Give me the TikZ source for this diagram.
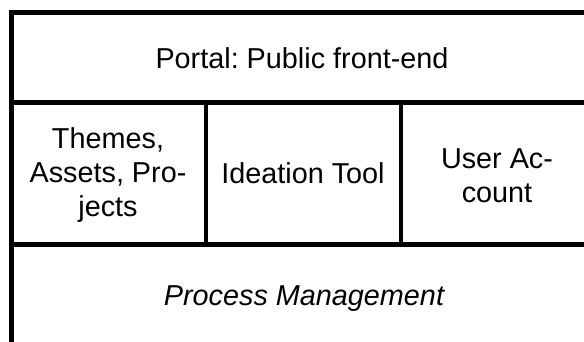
\documentclass[tikz,border=0pt]{standalone}
\usepackage{fontspec}
\setmainfont{Liberation Sans}
\frenchspacing

\begin{document}
\begin{tikzpicture}[x=0.5pt, y=-0.5pt,
    layer/.style={font=\fontsize{14.4}{16.8}\selectfont, align=center, inner sep=0pt},
    rule/.style={line width=2.5pt},
    sep/.style={line width=2pt}]
  \useasboundingbox (0,0) rectangle (584,342);
  \clip (0,0) rectangle (584,342);

  % Define corners and splits of the stack
  \coordinate (TL) at (11.5,12.5);
  \coordinate (TR) at (600,12.5);
  \coordinate (BL) at (11.5,360);
  \coordinate (AL) at (11.5,102.5);
  \coordinate (AR) at (600,102.5);
  \coordinate (CL) at (11.5,244);
  \coordinate (CR) at (600,244);
  \coordinate (S1t) at (206,102.5);
  \coordinate (S1b) at (206,244);
  \coordinate (S2t) at (400.5,102.5);
  \coordinate (S2b) at (400.5,244);

  % Define layers
  \node[layer] (portal) at (302,58) {Portal: Public front-end};
  \node[layer] (themes) at (108,175) {Themes,\\Assets, Pro-\\jects};
  \node[layer] (ideation) at (303,173.5) {Ideation Tool};
  \node[layer] (account) at (497,176) {User Ac-\\count};
  \node[layer, anchor=base] (process) at (304,305) {\itshape Process Management};

  % Draw outline and separators
  \draw[rule, line join=miter] (TR) -- (TL) -- (BL);
  \draw[rule] (AL) -- (AR);
  \draw[rule] (CL) -- (CR);
  \draw[sep] (S1t) -- (S1b);
  \draw[sep] (S2t) -- (S2b);
\end{tikzpicture}
\end{document}
